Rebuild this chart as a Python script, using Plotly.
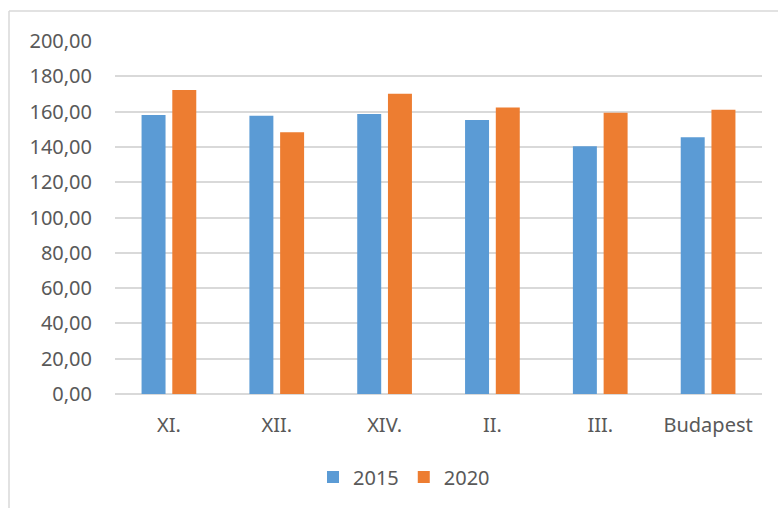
import plotly.graph_objects as go

categories = ["XI.", "XII.", "XIV.", "II.", "III.", "Budapest"]
values_2015 = [158.1, 157.7, 158.7, 155.3, 140.4, 145.4]
values_2020 = [172.2, 148.3, 170.1, 162.3, 159.4, 161.0]
series_names = ["2015", "2020"]
tick_values = [0, 20, 40, 60, 80, 100, 120, 140, 160, 180, 200]

W, H = 778, 508
L, R, T, B = 115, 16, 41, 114
pw, ph = W - L - R, H - T - B

def px_x(x):
    return (x - L) / pw

def px_y(y):
    return (H - B - y) / ph

font_family = "Noto Sans, Open Sans, sans-serif"
text_color = "#595959"
grid_color = "#d9d9d9"

fig = go.Figure()
fig.add_trace(go.Bar(x=categories, y=values_2015, name=series_names[0],
                     marker=dict(color="#5B9BD5", line=dict(width=0))))
fig.add_trace(go.Bar(x=categories, y=values_2020, name=series_names[1],
                     marker=dict(color="#ED7D31", line=dict(width=0))))

fig.update_layout(
    width=W, height=H,
    margin=dict(l=L, r=R, t=T, b=B, autoexpand=False),
    paper_bgcolor="white", plot_bgcolor="white",
    barmode="group", bargap=0.43, bargroupgap=0.22,
    separators=", ",
    font=dict(family=font_family, size=20, color=text_color),
    showlegend=True,
    legend=dict(orientation="h", x=px_x(313), xanchor="left",
                y=px_y(477), yanchor="middle",
                font=dict(size=20, color=text_color),
                bgcolor="rgba(0,0,0,0)", itemclick=False),
    xaxis=dict(showgrid=False, showline=False, ticks="", zeroline=False,
               tickfont=dict(size=20, color=text_color),
               ticklabelstandoff=17),
    yaxis=dict(range=[0, 200], tickvals=tick_values, tickformat=".2f",
               showgrid=True, gridcolor=grid_color, gridwidth=1.5,
               zeroline=True, zerolinecolor=grid_color, zerolinewidth=1.5,
               showline=False, ticks="",
               tickfont=dict(size=20, color=text_color),
               ticklabelstandoff=22),
    shapes=[
        dict(type="line", xref="paper", yref="paper",
             x0=px_x(9), x1=px_x(9), y0=px_y(11), y1=px_y(H + 5),
             line=dict(color=grid_color, width=1.5)),
        dict(type="line", xref="paper", yref="paper",
             x0=px_x(9), x1=px_x(W + 5), y0=px_y(11), y1=px_y(11),
             line=dict(color=grid_color, width=1.5)),
    ],
)

fig.write_html(
    "out.html",
    config={"displayModeBar": False},
    post_script="document.body.style.margin='0';document.body.style.overflow='hidden';",
)
